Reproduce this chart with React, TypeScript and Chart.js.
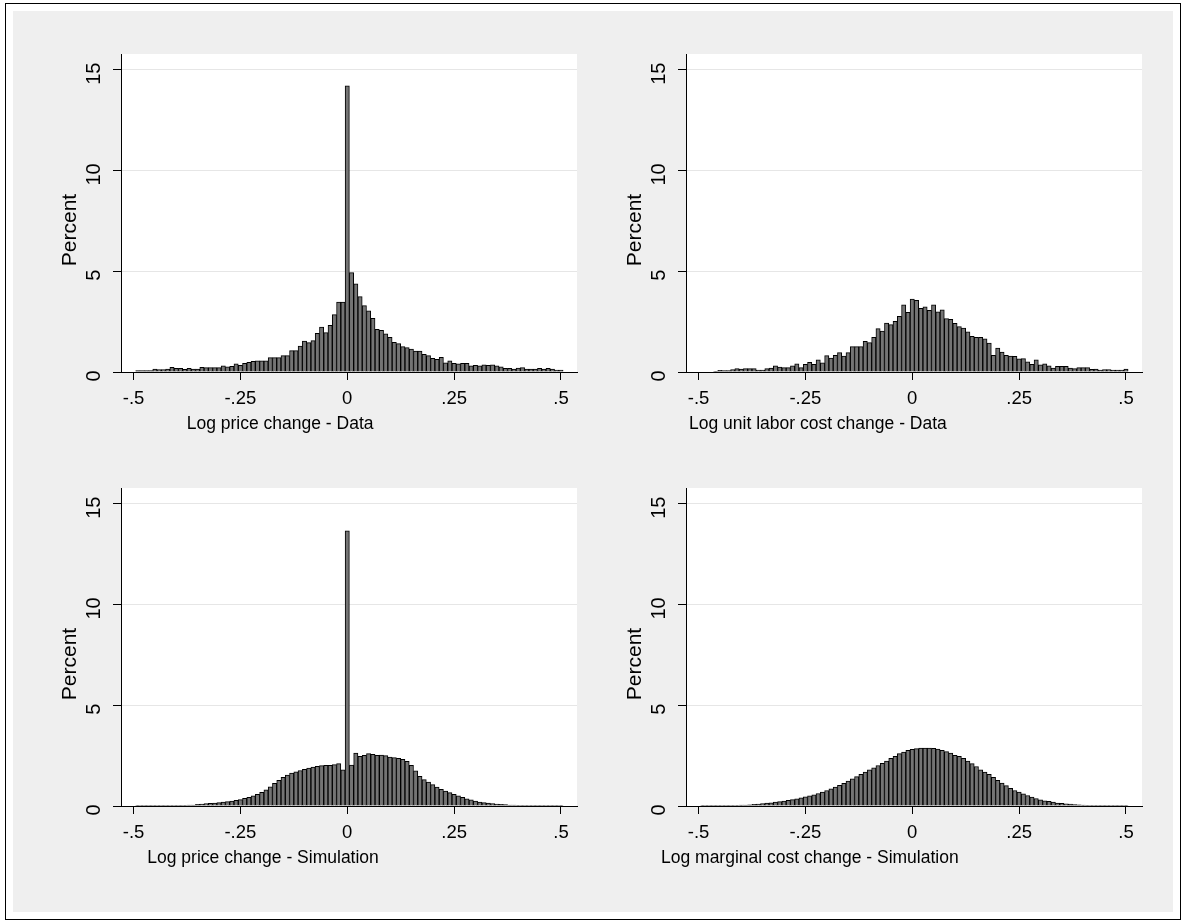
import React, { useEffect, useRef } from "react";
import { Chart, registerables } from "chart.js";

Chart.register(...registerables);

// ---------------- data ----------------
const binCenters = [
  -0.49, -0.48, -0.47, -0.46, -0.45, -0.44, -0.43, -0.42, -0.41, -0.40,
  -0.39, -0.38, -0.37, -0.36, -0.35, -0.34, -0.33, -0.32, -0.31, -0.30,
  -0.29, -0.28, -0.27, -0.26, -0.25, -0.24, -0.23, -0.22, -0.21, -0.20,
  -0.19, -0.18, -0.17, -0.16, -0.15, -0.14, -0.13, -0.12, -0.11, -0.10,
  -0.09, -0.08, -0.07, -0.06, -0.05, -0.04, -0.03, -0.02, -0.01, 0.0,
  0.01, 0.02, 0.03, 0.04, 0.05, 0.06, 0.07, 0.08, 0.09, 0.10,
  0.11, 0.12, 0.13, 0.14, 0.15, 0.16, 0.17, 0.18, 0.19, 0.20,
  0.21, 0.22, 0.23, 0.24, 0.25, 0.26, 0.27, 0.28, 0.29, 0.30,
  0.31, 0.32, 0.33, 0.34, 0.35, 0.36, 0.37, 0.38, 0.39, 0.40,
  0.41, 0.42, 0.43, 0.44, 0.45, 0.46, 0.47, 0.48, 0.49, 0.50,
];

const priceData = [
  0.07, 0.07, 0.07, 0.07, 0.15, 0.12, 0.12, 0.15, 0.23, 0.18,
  0.18, 0.13, 0.18, 0.15, 0.15, 0.23, 0.22, 0.22, 0.22, 0.22,
  0.31, 0.26, 0.28, 0.40, 0.33, 0.43, 0.48, 0.53, 0.56, 0.56,
  0.56, 0.71, 0.71, 0.71, 0.81, 0.81, 1.06, 1.06, 1.29, 1.54,
  1.46, 1.56, 1.92, 2.23, 1.95, 2.32, 2.85, 3.47, 3.47, 14.2,
  4.93, 4.37, 3.74, 3.29, 3.03, 2.66, 2.12, 2.07, 1.89, 1.72,
  1.47, 1.41, 1.26, 1.21, 1.14, 1.04, 1.04, 0.88, 0.81, 0.68,
  0.63, 0.73, 0.46, 0.56, 0.43, 0.41, 0.43, 0.43, 0.30, 0.33,
  0.30, 0.36, 0.33, 0.35, 0.30, 0.26, 0.18, 0.18, 0.15, 0.20,
  0.22, 0.15, 0.15, 0.15, 0.18, 0.15, 0.18, 0.15, 0.10, 0.10,
];

const laborCostData = [
  0, 0, 0, 0.03, 0.08, 0.07, 0.07, 0.12, 0.17, 0.15,
  0.17, 0.17, 0.17, 0.10, 0.10, 0.17, 0.20, 0.30, 0.25, 0.22,
  0.22, 0.31, 0.40, 0.22, 0.38, 0.48, 0.38, 0.61, 0.45, 0.81,
  0.69, 0.83, 0.96, 0.79, 0.96, 1.26, 1.26, 1.26, 1.52, 1.46,
  1.72, 2.15, 2.03, 2.43, 2.35, 2.52, 2.76, 3.33, 2.96, 3.62,
  3.56, 3.16, 3.24, 3.06, 3.33, 2.99, 3.09, 2.65, 2.61, 2.42,
  2.25, 2.18, 1.99, 1.77, 1.72, 1.72, 1.64, 1.44, 0.83, 1.19,
  0.99, 0.83, 0.79, 0.78, 0.65, 0.66, 0.51, 0.38, 0.60, 0.36,
  0.41, 0.30, 0.20, 0.28, 0.28, 0.28, 0.20, 0.17, 0.22, 0.22,
  0.22, 0.13, 0.15, 0.10, 0.12, 0.12, 0.10, 0.10, 0.10, 0.15,
];

const simPriceData = [
  0.01, 0.01, 0.01, 0.01, 0.01, 0.01, 0.01, 0.02, 0.03, 0.03,
  0.03, 0.03, 0.05, 0.05, 0.08, 0.10, 0.12, 0.13, 0.15, 0.17,
  0.20, 0.22, 0.25, 0.28, 0.32, 0.38, 0.43, 0.50, 0.58, 0.68,
  0.80, 0.95, 1.12, 1.28, 1.42, 1.53, 1.63, 1.70, 1.76, 1.82,
  1.88, 1.93, 1.97, 2.00, 2.02, 2.02, 2.05, 2.10, 1.80, 13.65,
  2.03, 2.63, 2.46, 2.51, 2.60, 2.56, 2.51, 2.53, 2.50, 2.43,
  2.40, 2.37, 2.32, 2.22, 2.02, 1.74, 1.47, 1.31, 1.19, 1.06,
  0.94, 0.83, 0.74, 0.66, 0.58, 0.50, 0.43, 0.36, 0.30, 0.25,
  0.20, 0.17, 0.15, 0.12, 0.10, 0.08, 0.07, 0.05, 0.05, 0.03,
  0.03, 0.03, 0.02, 0.02, 0.01, 0.01, 0.01, 0.01, 0.01, 0.01,
];

const simCostData = [
  0.01, 0.01, 0.01, 0.01, 0.01, 0.02, 0.02, 0.03, 0.03, 0.04,
  0.05, 0.06, 0.08, 0.10, 0.12, 0.14, 0.16, 0.19, 0.22, 0.25,
  0.28, 0.32, 0.36, 0.40, 0.45, 0.50, 0.56, 0.62, 0.69, 0.77,
  0.85, 0.94, 1.03, 1.13, 1.24, 1.35, 1.46, 1.57, 1.68, 1.79,
  1.90, 2.01, 2.12, 2.23, 2.36, 2.47, 2.60, 2.68, 2.76, 2.81,
  2.85, 2.87, 2.88, 2.88, 2.86, 2.82, 2.76, 2.70, 2.63, 2.52,
  2.46, 2.36, 2.23, 2.10, 1.96, 1.80, 1.68, 1.57, 1.42, 1.28,
  1.14, 1.01, 0.88, 0.77, 0.69, 0.61, 0.52, 0.44, 0.37, 0.30,
  0.26, 0.23, 0.19, 0.15, 0.13, 0.11, 0.09, 0.07, 0.06, 0.04,
  0.03, 0.03, 0.02, 0.02, 0.01, 0.01, 0.01, 0.01, 0.01, 0.01,
];

const xTickValues = [-0.5, -0.25, 0, 0.25, 0.5];
const xTickLabels = ["-.5", "-.25", "0", ".25", ".5"];
const yTickValues = [0, 5, 10, 15];
const yTickLabels = ["0", "5", "10", "15"];
const yTitle = "Percent";
const panelTitles = [
  "Log price change - Data",
  "Log unit labor cost change - Data",
  "Log price change - Simulation",
  "Log marginal cost change - Simulation",
];

// ---------------- styles / layout ----------------
const FONT = '"Liberation Sans", Arial, Helvetica, sans-serif';
const BAR_FILL = "#747474";
const BAR_EDGE = "#000000";
const GRID = "#e6e6e6";
const X_MIN = -0.5293;
const X_MAX = 0.5375;
const Y_MAX = 15.78;

const PAD_TOP = 44;
const PAD_RIGHT = 6;
const Y_AXIS_W = 107;
const X_AXIS_H = 62;
const PLOT_W = 456;
const PLOT_H = 318;
const CANVAS_W = Y_AXIS_W + PLOT_W + PAD_RIGHT;
const CANVAS_H = PAD_TOP + PLOT_H + X_AXIS_H;

const X_TICK_PX = 18.5;
const Y_TICK_PX = 20;
const Y_TITLE_PX = 21;
const X_TITLE_PX = 17.5;

type PanelSpec = {
  values: number[];
  title: string;
  plotLeft: number;
  plotTop: number;
  titleOffset: number;
};

const panels: PanelSpec[] = [
  { values: priceData, title: panelTitles[0], plotLeft: 121, plotTop: 54, titleOffset: 65.7 },
  { values: laborCostData, title: panelTitles[1], plotLeft: 686, plotTop: 54, titleOffset: 3 },
  { values: simPriceData, title: panelTitles[2], plotLeft: 121, plotTop: 488, titleOffset: 26.3 },
  { values: simCostData, title: panelTitles[3], plotLeft: 686, plotTop: 488, titleOffset: -25 },
];

function Panel({ spec }: { spec: PanelSpec }) {
  const ref = useRef<HTMLCanvasElement | null>(null);

  useEffect(() => {
    const canvas = ref.current;
    if (!canvas) return;

    const stataPlugin = {
      id: "stataText",
      beforeDraw(chart: any) {
        const { ctx, chartArea: a } = chart;
        ctx.save();
        ctx.fillStyle = "#ffffff";
        ctx.fillRect(a.left, a.top, a.right - a.left, a.bottom - a.top);
        ctx.restore();
      },
      afterDraw(chart: any) {
        const { ctx, chartArea: a } = chart;
        const xs = chart.scales.x;
        const ys = chart.scales.y;
        ctx.save();
        ctx.fillStyle = "#000000";
        ctx.textBaseline = "alphabetic";

        // x tick labels
        ctx.font = `${X_TICK_PX}px ${FONT}`;
        ctx.textAlign = "center";
        xTickValues.forEach((v, i) => {
          ctx.fillText(xTickLabels[i], xs.getPixelForValue(v), a.bottom + 32);
        });

        // y tick labels (vertical)
        ctx.font = `${Y_TICK_PX}px ${FONT}`;
        yTickValues.forEach((v, i) => {
          ctx.save();
          ctx.translate(a.left - 21, ys.getPixelForValue(v) + 4);
          ctx.rotate(-Math.PI / 2);
          ctx.textAlign = "center";
          ctx.fillText(yTickLabels[i], 0, 0);
          ctx.restore();
        });

        // y title
        ctx.font = `${Y_TITLE_PX}px ${FONT}`;
        ctx.save();
        ctx.translate(a.left - 45.5, (a.top + a.bottom) / 2 + 17);
        ctx.rotate(-Math.PI / 2);
        ctx.textAlign = "center";
        ctx.fillText(yTitle, 0, 0);
        ctx.restore();

        // x title
        ctx.font = `${X_TITLE_PX}px ${FONT}`;
        ctx.textAlign = "left";
        ctx.fillText(spec.title, a.left + spec.titleOffset, a.bottom + 56.5);
        ctx.restore();
      },
    };

    const chart = new Chart(canvas, {
      type: "bar",
      data: {
        datasets: [
          {
            data: binCenters.map((c, i) => ({ x: c, y: spec.values[i] })),
            backgroundColor: BAR_FILL,
            borderColor: BAR_EDGE,
            borderWidth: 1,
            barPercentage: 1,
            categoryPercentage: 1,
          },
        ],
      },
      options: {
        animation: false,
        responsive: false,
        devicePixelRatio: 1,
        events: [],
        layout: { padding: { left: 0, top: PAD_TOP, right: PAD_RIGHT, bottom: 0 } },
        plugins: { legend: { display: false }, tooltip: { enabled: false }, title: { display: false } },
        scales: {
          x: {
            type: "linear",
            min: X_MIN,
            max: X_MAX,
            offset: false,
            afterBuildTicks: (s: any) => {
              s.ticks = xTickValues.map((v) => ({ value: v }));
            },
            afterFit: (s: any) => {
              s.height = X_AXIS_H;
            },
            ticks: { display: false },
            grid: {
              offset: false,
              drawOnChartArea: false,
              drawTicks: true,
              tickLength: 8,
              tickColor: "#000000",
              tickWidth: 1,
            },
            border: { display: true, color: "#000000", width: 1 },
          },
          y: {
            type: "linear",
            min: 0,
            max: Y_MAX,
            afterBuildTicks: (s: any) => {
              s.ticks = yTickValues.map((v) => ({ value: v }));
            },
            afterFit: (s: any) => {
              s.width = Y_AXIS_W;
            },
            ticks: { display: false },
            grid: {
              color: GRID,
              lineWidth: 1,
              drawTicks: true,
              tickLength: 8,
              tickColor: "#000000",
              tickWidth: 1,
            },
            border: { display: true, color: "#000000", width: 1 },
          },
        },
      } as any,
      plugins: [stataPlugin],
    });

    return () => chart.destroy();
  }, [spec]);

  return (
    <canvas
      ref={ref}
      width={CANVAS_W}
      height={CANVAS_H}
      style={{
        position: "absolute",
        left: spec.plotLeft - Y_AXIS_W,
        top: spec.plotTop - PAD_TOP,
        width: CANVAS_W,
        height: CANVAS_H,
      }}
    />
  );
}

export default function App() {
  return (
    <div
      style={{
        position: "fixed",
        left: 0,
        top: 0,
        width: 1186,
        height: 924,
        background: "#ffffff",
        overflow: "hidden",
      }}
    >
      <div
        style={{
          position: "absolute",
          left: 5,
          top: 3,
          width: 1176,
          height: 917,
          border: "1px solid #000",
          boxSizing: "border-box",
        }}
      />
      <div
        style={{
          position: "absolute",
          left: 13,
          top: 11,
          width: 1160,
          height: 901,
          background: "#efefef",
        }}
      />
      {panels.map((p, i) => (
        <Panel key={i} spec={p} />
      ))}
    </div>
  );
}
